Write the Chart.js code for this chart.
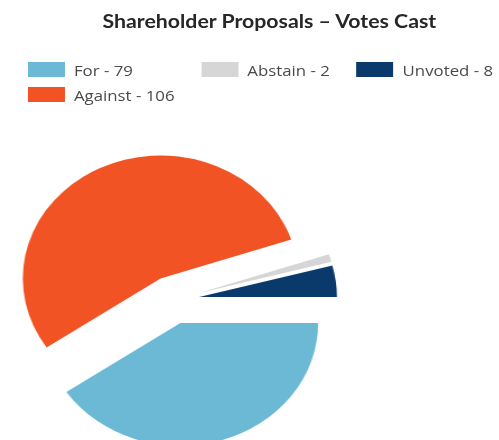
<!DOCTYPE html>
<html>
<head>
<meta charset="utf-8">
<title>Shareholder Proposals – Votes Cast</title>
<script src="https://cdn.jsdelivr.net/npm/chart.js@4"></script>
<style>
  body { margin: 0; background: #fff; overflow: hidden; }
  /* the original picture is stretched sideways, so the whole frame is too */
  #frame { position: relative; width: 446px; height: 440px; overflow: hidden;
           transform: scaleX(1.12); transform-origin: 0 0; }
  #title { position: absolute; left: 0; top: 9px; width: 481px; text-align: center;
           font: bold 19px Lato, sans-serif; color: #262626; white-space: nowrap; }
  #legend { position: absolute; left: 25px; top: 57px; display: grid;
            grid-template-columns: auto auto auto; column-gap: 24px; grid-auto-rows: 25px;
            font: 15px "Open Sans", sans-serif; color: #4a4a4a; }
  #legend .item { display: flex; align-items: center; white-space: nowrap; }
  #legend .box { width: 33px; height: 15px; margin-right: 8px; }
  #pie { position: absolute; left: -6px; top: 140px; }
</style>
</head>
<body>
<div id="frame">
  <div id="title">Shareholder Proposals – Votes Cast</div>
  <div id="legend"></div>
  <canvas id="pie" width="320" height="320"></canvas>
</div>
<script>
// chart data
var categories = ['For', 'Against', 'Abstain', 'Unvoted'];
var votes = [79, 106, 2, 8];
var colors = ['#6BB9D4', '#F15324', '#D6D6D6', '#0A3A6C'];
// legend reads in columns: For/Against, Abstain, Unvoted
var legendOrder = ['For', 'Abstain', 'Unvoted', 'Against'];

var pieRadius = 123;
var explode = 24; // px every slice is pulled out from the centre

// Excel style explode: move each slice along its middle angle, same size for all
// (Chart.js own "offset" also grows and trims the slices, so it is not used)
var explodeSlices = {
  id: 'explodeSlices',
  afterDatasetsUpdate: function(chart) {
    var area = chart.chartArea;
    var cx = (area.left + area.right) / 2;
    var cy = (area.top + area.bottom) / 2;
    chart.getDatasetMeta(0).data.forEach(function(arc) {
      var mid = (arc.startAngle + arc.endAngle) / 2;
      arc.x = cx + Math.cos(mid) * explode;
      arc.y = cy + Math.sin(mid) * explode;
    });
  }
};

var labels = categories.map(function(c, i) { return c + ' - ' + votes[i]; });

var chart = new Chart(document.getElementById('pie'), {
  type: 'pie',
  data: {
    labels: labels,
    datasets: [{
      data: votes,
      backgroundColor: colors,
      borderWidth: 0,
      hoverOffset: 0
    }]
  },
  options: {
    responsive: false,
    animation: false,
    rotation: 90,
    radius: pieRadius,
    events: [],
    layout: { padding: 0 },
    plugins: {
      legend: { display: false },
      tooltip: { enabled: false }
    }
  },
  plugins: [explodeSlices]
});

// html legend built from the chart's own legend items
var items = chart.options.plugins.legend.labels.generateLabels(chart);
items.sort(function(a, b) {
  return legendOrder.indexOf(categories[a.index]) - legendOrder.indexOf(categories[b.index]);
});
var legend = document.getElementById('legend');
items.forEach(function(item) {
  var div = document.createElement('div');
  div.className = 'item';
  var box = document.createElement('span');
  box.className = 'box';
  box.style.background = item.fillStyle;
  var text = document.createElement('span');
  text.textContent = item.text;
  div.appendChild(box);
  div.appendChild(text);
  legend.appendChild(div);
});
</script>
</body>
</html>
